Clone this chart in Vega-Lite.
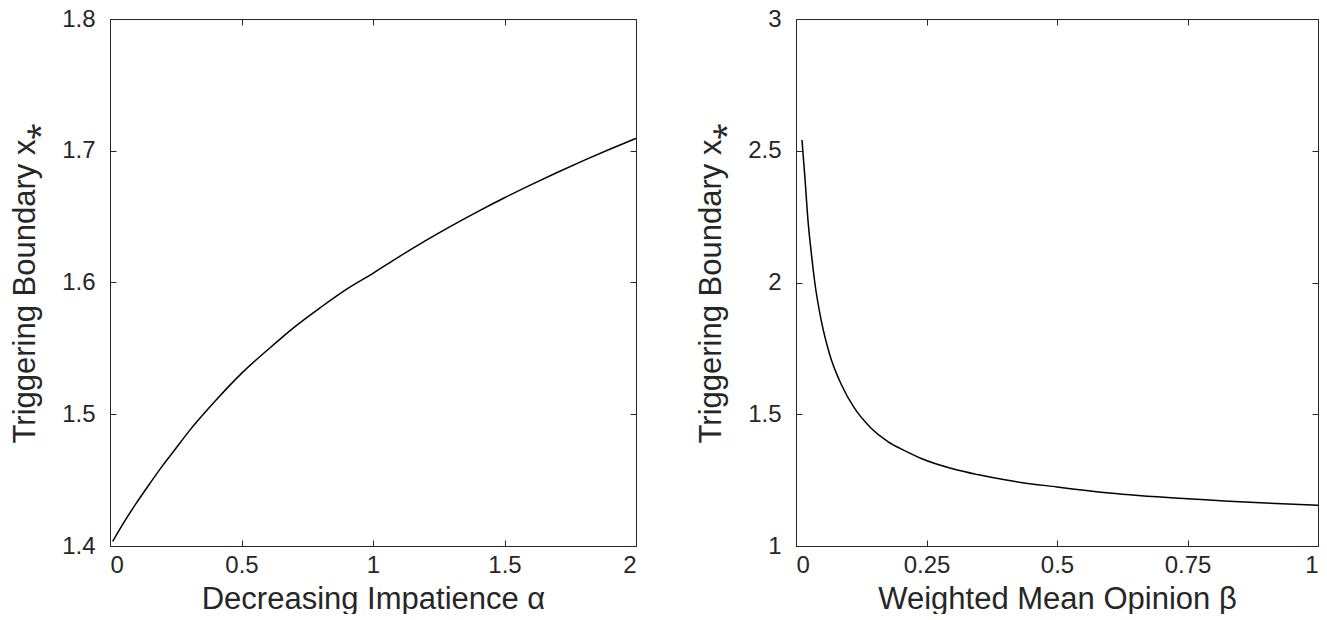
{
  "$schema": "https://vega.github.io/schema/vega-lite/v6.json",
  "background": "white",
  "padding": {"left": 9, "top": 7, "right": 5, "bottom": 0},
  "spacing": 56,
  "datasets": {
    "alpha": [
      {"a": 0.01, "x": 1.4035}, {"a": 0.05, "x": 1.417}, {"a": 0.1, "x": 1.4325}, {"a": 0.15, "x": 1.447},
      {"a": 0.2, "x": 1.461}, {"a": 0.25, "x": 1.474}, {"a": 0.3, "x": 1.487}, {"a": 0.4, "x": 1.51},
      {"a": 0.5, "x": 1.531}, {"a": 0.6, "x": 1.549}, {"a": 0.7, "x": 1.566}, {"a": 0.8, "x": 1.581},
      {"a": 0.9, "x": 1.595}, {"a": 1.0, "x": 1.607}, {"a": 1.1, "x": 1.6197}, {"a": 1.2, "x": 1.6318},
      {"a": 1.3, "x": 1.6432}, {"a": 1.4, "x": 1.654}, {"a": 1.5, "x": 1.6643}, {"a": 1.6, "x": 1.6741},
      {"a": 1.7, "x": 1.6835}, {"a": 1.8, "x": 1.6925}, {"a": 1.9, "x": 1.7011}, {"a": 2.0, "x": 1.7094}
    ],
    "beta": [
      {"b": 0.0115, "x": 2.541}, {"b": 0.017, "x": 2.4}, {"b": 0.023, "x": 2.235}, {"b": 0.03, "x": 2.1},
      {"b": 0.036, "x": 2.0}, {"b": 0.0485, "x": 1.854}, {"b": 0.0645, "x": 1.727}, {"b": 0.087, "x": 1.612},
      {"b": 0.112, "x": 1.523}, {"b": 0.144, "x": 1.447}, {"b": 0.176, "x": 1.396}, {"b": 0.21, "x": 1.36},
      {"b": 0.24, "x": 1.332}, {"b": 0.3, "x": 1.293}, {"b": 0.35, "x": 1.27}, {"b": 0.4, "x": 1.251},
      {"b": 0.5, "x": 1.224}, {"b": 0.6, "x": 1.201}, {"b": 0.75, "x": 1.179}, {"b": 0.9, "x": 1.163},
      {"b": 1.0, "x": 1.155}
    ]
  },
  "hconcat": [
    {
      "width": 526,
      "height": 527,
      "data": {"name": "alpha"},
      "layer": [
        {
          "mark": {"type": "line", "color": "black", "strokeWidth": 1.5, "interpolate": "monotone"},
          "encoding": {
            "x": {"field": "a", "type": "quantitative", "scale": {"domain": [0, 2], "nice": false},
              "axis": {"title": "Decreasing Impatience α", "values": [0, 0.5, 1, 1.5, 2], "labelExpr": "datum.value + ''"}},
            "y": {"field": "x", "type": "quantitative", "scale": {"domain": [1.4, 1.8], "nice": false, "zero": false},
              "axis": {"title": "Triggering Boundary x⁎", "values": [1.4, 1.5, 1.6, 1.7, 1.8], "labelExpr": "datum.value + ''"}}
          }
        },
        {
          "mark": {"type": "line", "opacity": 0},
          "encoding": {
            "x": {"field": "a", "type": "quantitative",
              "axis": {"orient": "top", "labels": false, "title": null, "values": [0, 0.5, 1, 1.5, 2]}},
            "y": {"field": "x", "type": "quantitative",
              "axis": {"orient": "right", "labels": false, "title": null, "values": [1.4, 1.5, 1.6, 1.7, 1.8]}}
          }
        }
      ],
      "resolve": {"axis": {"x": "independent", "y": "independent"}}
    },
    {
      "width": 522,
      "height": 527,
      "data": {"name": "beta"},
      "layer": [
        {
          "mark": {"type": "line", "color": "black", "strokeWidth": 1.5, "interpolate": "monotone"},
          "encoding": {
            "x": {"field": "b", "type": "quantitative", "scale": {"domain": [0, 1], "nice": false},
              "axis": {"title": "Weighted Mean Opinion β", "values": [0, 0.25, 0.5, 0.75, 1], "labelExpr": "datum.value + ''"}},
            "y": {"field": "x", "type": "quantitative", "scale": {"domain": [1, 3], "nice": false, "zero": false},
              "axis": {"title": "Triggering Boundary x⁎", "values": [1, 1.5, 2, 2.5, 3], "labelExpr": "datum.value + ''"}}
          }
        },
        {
          "mark": {"type": "line", "opacity": 0},
          "encoding": {
            "x": {"field": "b", "type": "quantitative",
              "axis": {"orient": "top", "labels": false, "title": null, "values": [0, 0.25, 0.5, 0.75, 1]}},
            "y": {"field": "x", "type": "quantitative",
              "axis": {"orient": "right", "labels": false, "title": null, "values": [1, 1.5, 2, 2.5, 3]}}
          }
        }
      ],
      "resolve": {"axis": {"x": "independent", "y": "independent"}}
    }
  ],
  "config": {
    "font": "Liberation Sans",
    "view": {"stroke": null},
    "axis": {
      "grid": false,
      "domainColor": "#262626",
      "domainWidth": 1,
      "tickColor": "#262626",
      "tickWidth": 1,
      "tickSize": -6,
      "labelColor": "#262626",
      "labelFont": "Liberation Sans",
      "labelFontSize": 24,
      "titleColor": "#262626",
      "titleFont": "Liberation Sans",
      "titleFontSize": 31,
      "titleFontWeight": "normal"
    },
    "axisX": {"labelPadding": 13, "titlePadding": 7},
    "axisY": {"labelPadding": 21, "titlePadding": 20}
  }
}
